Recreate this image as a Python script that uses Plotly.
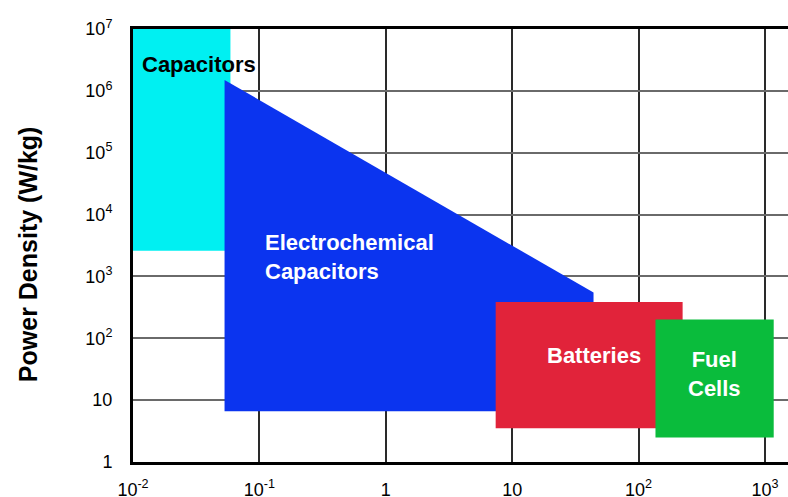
import plotly.graph_objects as go

# Region outlines (energy density Wh/kg, power density W/kg)
cap_x = [0.01, 0.059, 0.059, 0.01]
cap_y = [2600, 2600, 1e7, 1e7]

ec_x = [0.053, 0.053, 44, 44]
ec_y = [6.6, 1.5e6, 550, 6.6]

bat_x = [7.4, 223, 223, 7.4]
bat_y = [3.5, 3.5, 385, 385]

fc_x = [136, 1172, 1172, 136]
fc_y = [2.5, 2.5, 201, 201]

x_ticks = [0.01, 0.1, 1, 10, 100, 1000]
x_labels = ["10<sup>-2</sup>", "10<sup>-1</sup>", "1", "10", "10<sup>2</sup>", "10<sup>3</sup>"]
y_ticks = [1, 10, 100, 1e3, 1e4, 1e5, 1e6, 1e7]
y_labels = ["1", "10", "10<sup>2</sup>", "10<sup>3</sup>", "10<sup>4</sup>",
            "10<sup>5</sup>", "10<sup>6</sup>", "10<sup>7</sup>"]

FONT = "Arial, Liberation Sans, sans-serif"

fig = go.Figure()
regions = [
    (cap_x, cap_y, "#00F0F2"),
    (ec_x, ec_y, "#0B34EF"),
    (bat_x, bat_y, "#E1233A"),
    (fc_x, fc_y, "#0ABC3C"),
]
for xs, ys, col in regions:
    fig.add_trace(go.Scatter(x=xs, y=ys, fill="toself", mode="lines",
                             line=dict(width=0, color=col), fillcolor=col,
                             hoverinfo="skip", showlegend=False))

ann = [
    dict(x=-1.945, y=6.42, text="<b>Capacitors</b>", color="black", xanchor="left"),
    dict(x=-0.971, y=3.317, text="<b>Electrochemical<br>Capacitors</b>", color="white", xanchor="left", align="left"),
    dict(x=1.651, y=1.717, text="<b>Batteries</b>", color="white", xanchor="center"),
    dict(x=2.604, y=1.426, text="<b>Fuel<br>Cells</b>", color="white", xanchor="center"),
]
for a in ann:
    fig.add_annotation(x=a["x"], y=a["y"], xref="x", yref="y", text=a["text"],
                       showarrow=False, xanchor=a["xanchor"], align=a.get("align", "center"),
                       font=dict(family=FONT, size=22, color=a["color"]))

fig.add_annotation(x=-121 / 655, y=0.48, xref="paper", yref="paper",
                   text="<b>Power Density (W/kg)</b>", textangle=-90, showarrow=False,
                   font=dict(family=FONT, size=25, color="black"))

fig.update_xaxes(type="log", range=[-2, 3.182], tickvals=x_ticks, ticktext=x_labels,
                 showgrid=True, gridcolor="#2a2a2a", gridwidth=1.5,
                 showline=True, linecolor="black", linewidth=3, mirror=True,
                 zeroline=False, ticks="", ticklabelstandoff=9, automargin=False,
                 tickfont=dict(family=FONT, size=18, color="black"))
fig.update_yaxes(type="log", range=[0, 7], tickvals=y_ticks, ticktext=y_labels,
                 showgrid=True, gridcolor="#6a6a6a", gridwidth=1.5,
                 showline=True, linecolor="black", linewidth=3, mirror=False,
                 zeroline=False, ticks="", ticklabelstandoff=14, automargin=False,
                 tickfont=dict(family=FONT, size=18, color="black"))

fig.update_layout(width=788, height=497, margin=dict(l=133, r=0, t=29, b=35),
                  plot_bgcolor="white", paper_bgcolor="white", showlegend=False)

fig.write_html("out.html", config={"displayModeBar": False},
               post_script="document.body.style.margin='0';document.body.style.overflow='hidden';")
